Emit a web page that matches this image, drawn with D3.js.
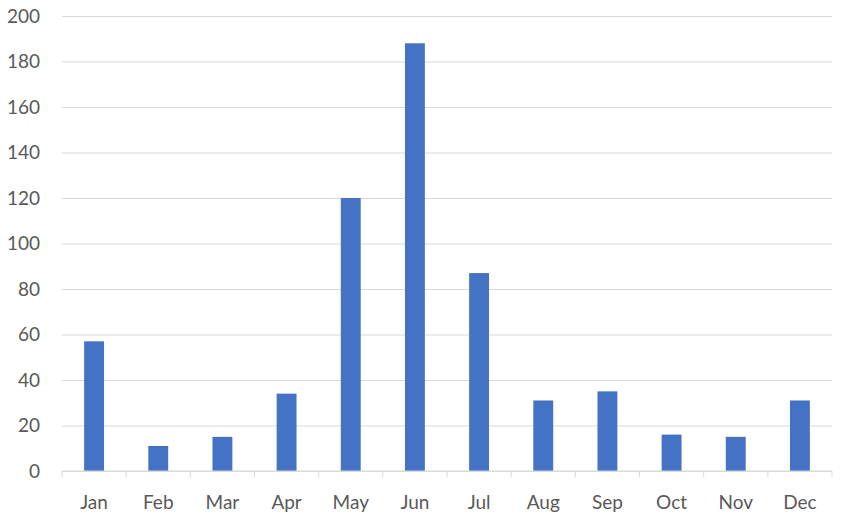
<!DOCTYPE html>
<html>
<head>
<meta charset="utf-8">
<script src="https://cdn.jsdelivr.net/npm/d3@7"></script>
<style>
  body { margin: 0; background: #fff; }
  svg text { font-family: Lato, "Open Sans", sans-serif; }
</style>
</head>
<body>
<div id="chart"></div>
<script>
const months = ["Jan", "Feb", "Mar", "Apr", "May", "Jun", "Jul", "Aug", "Sep", "Oct", "Nov", "Dec"];
const values = [57, 11, 15, 34, 120, 188, 87, 31, 35, 16, 15, 31];
const yTicks = [0, 20, 40, 60, 80, 100, 120, 140, 160, 180, 200];

const width = 841, height = 521;
const margin = {top: 16, right: 9, bottom: 50, left: 62};

const svg = d3.select("#chart").append("svg")
    .attr("width", width)
    .attr("height", height);

const x = d3.scaleBand()
    .domain(months)
    .range([margin.left, width - margin.right])
    .paddingInner(0.69)
    .paddingOuter(0.345);

const y = d3.scaleLinear()
    .domain([0, 200])
    .range([height - margin.bottom, margin.top]);

// gridlines + y labels
svg.append("g")
    .attr("transform", `translate(${margin.left},0)`)
    .call(d3.axisLeft(y).tickValues(yTicks).tickSize(0).tickPadding(22))
    .call(g => g.select(".domain").remove())
    .call(g => g.selectAll(".tick line").clone()
        .attr("x2", width - margin.left - margin.right)
        .attr("stroke", "#d9d9d9"))
    .call(g => g.selectAll(".tick text")
        .attr("fill", "#595959")
        .style("font-size", "19px"));

// bars
svg.append("g")
  .selectAll("rect")
  .data(values)
  .join("rect")
    .attr("x", (d, i) => x(months[i]))
    .attr("y", d => y(d))
    .attr("width", x.bandwidth())
    .attr("height", d => y(0) - y(d))
    .attr("fill", "#4472c4");

// x axis with category boundary ticks
const step = x.step();
const xg = svg.append("g")
    .attr("transform", `translate(0,${y(0)})`);
xg.append("line")
    .attr("x1", margin.left).attr("x2", width - margin.right)
    .attr("stroke", "#d9d9d9");
xg.selectAll(".bound")
  .data(d3.range(months.length + 1))
  .join("line")
    .attr("x1", i => margin.left + i * step)
    .attr("x2", i => margin.left + i * step)
    .attr("y1", 0).attr("y2", 6)
    .attr("stroke", "#d9d9d9");
xg.selectAll(".lab")
  .data(months)
  .join("text")
    .attr("x", d => x(d) + x.bandwidth() / 2)
    .attr("y", 38)
    .attr("text-anchor", "middle")
    .attr("fill", "#595959")
    .style("font-size", "19px")
    .text(d => d);
</script>
</body>
</html>
